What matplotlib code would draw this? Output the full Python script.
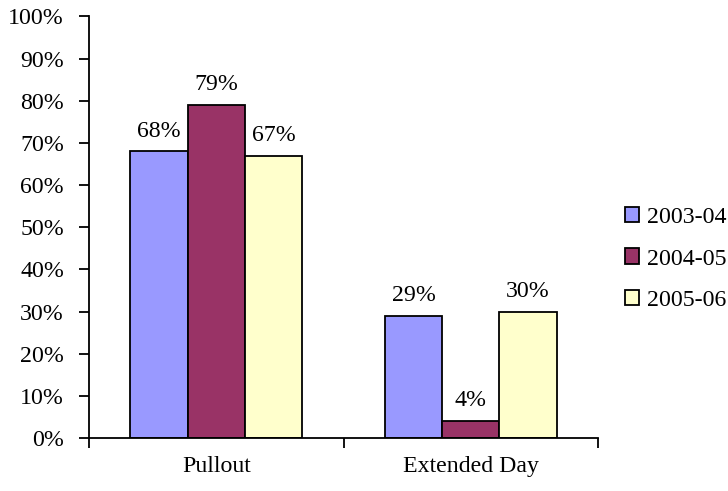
import matplotlib
matplotlib.use("Agg")
import matplotlib.pyplot as plt
import numpy as np

categories = ["Pullout", "Extended Day"]
series_names = ["2003-04", "2004-05", "2005-06"]
values = {
    "2003-04": [68, 29],
    "2004-05": [79, 4],
    "2005-06": [67, 30],
}
colors = ["#9999FF", "#993366", "#FFFFCC"]
y_ticks = [0, 10, 20, 30, 40, 50, 60, 70, 80, 90, 100]

plt.rcParams["font.family"] = ["Liberation Serif", "DejaVu Serif"]
FS = 17.2

fig = plt.figure(figsize=(7.28, 4.91), dpi=100)
ax = fig.add_axes([89 / 728, 53 / 491, 509 / 728, 421.5 / 491])

x = np.arange(len(categories))
width = 0.225
for i, name in enumerate(series_names):
    pos = x + (i - 1) * width
    bars = ax.bar(pos, values[name], width=width, color=colors[i],
                  edgecolor="black", linewidth=1.3, label=name, zorder=2)
    for b, v in zip(bars, values[name]):
        ax.annotate(f"{v}%", (b.get_x() + b.get_width() / 2, v),
                    xytext=(0, 7), textcoords="offset points",
                    ha="center", va="bottom", fontsize=FS)

ax.set_xlim(-0.5, len(categories) - 0.5)
ax.set_ylim(0, 100)
ax.set_yticks(y_ticks)
ax.set_yticklabels([f"{t}%" for t in y_ticks], fontsize=FS)
ax.set_xticks([-0.5, 0.5, 1.5])
ax.set_xticklabels([])
ax.set_xticks(x, minor=True)
ax.set_xticklabels(categories, minor=True, fontsize=FS)
ax.tick_params(axis="x", which="minor", length=0, pad=13)
ax.tick_params(axis="x", which="major", direction="out", length=7, width=1.3)
ax.tick_params(axis="y", direction="out", length=7, width=1.3, pad=11)

for s in ["top", "right"]:
    ax.spines[s].set_visible(False)
for s in ["left", "bottom"]:
    ax.spines[s].set_linewidth(1.3)

leg = fig.legend(loc="center left", bbox_to_anchor=(615 / 728, 1 - 259 / 491),
                 frameon=False, fontsize=FS, handlelength=0.6, handleheight=0.6,
                 handletextpad=0.35, labelspacing=0.85, borderaxespad=0)

fig.savefig("out.png", dpi=100)
